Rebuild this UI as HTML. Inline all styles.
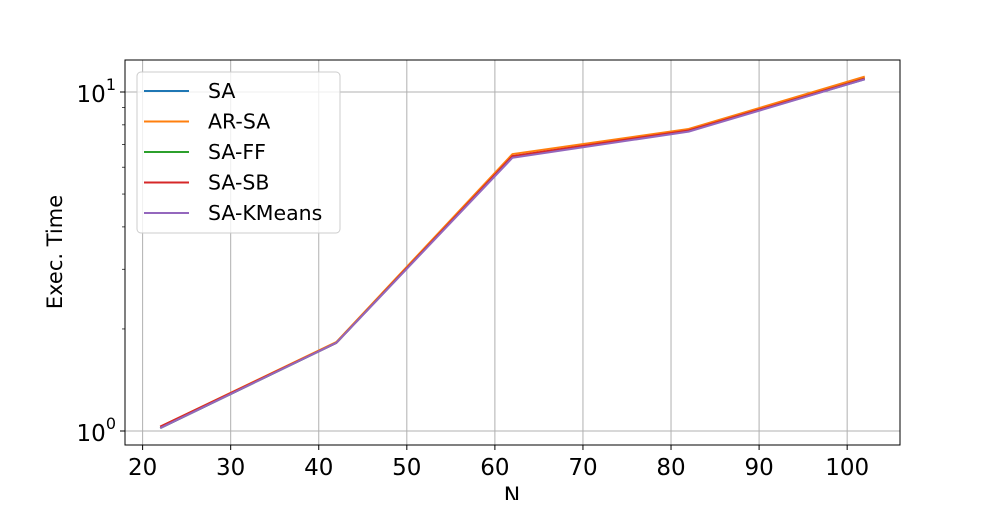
<!DOCTYPE html>
<html><head><meta charset="utf-8"><style>
body{margin:0;background:#fff}
svg text{font-family:"DejaVu Sans","Liberation Sans",sans-serif;fill:#000}
</style></head><body>
<svg id="chart" width="1000" height="500" xmlns="http://www.w3.org/2000/svg">
<g id="grid"></g>
<g id="series"></g>
<rect x="125" y="60" width="775" height="385" fill="none" stroke="#000" stroke-width="1"/>
<g id="axes"></g>
<text x="512" y="503" font-size="22" text-anchor="middle">N</text>
<text transform="translate(62,252) rotate(-90)" font-size="21" text-anchor="middle">Exec. Time</text>
<g id="legend"></g>
</svg>
<script>
const categories = [22, 42, 62, 82, 102];
const seriesNames = ['SA','AR-SA','SA-FF','SA-SB','SA-KMeans'];
const saVals = [1.02, 1.82, 6.43, 7.67, 10.9];
const arsaVals = [1.03, 1.83, 6.56, 7.78, 11.1];
const saffVals = [1.02, 1.82, 6.45, 7.68, 10.95];
const sasbVals = [1.03, 1.82, 6.47, 7.7, 10.95];
const sakmVals = [1.02, 1.82, 6.40, 7.64, 10.9];
const xTicks = [20,30,40,50,60,70,80,90,100];
const yMajor = [1, 10];
const colors = ['#1f77b4','#ff7f0e','#2ca02c','#d62728','#9467bd'];
const allVals = [saVals, arsaVals, saffVals, sasbVals, sakmVals];

const NS='http://www.w3.org/2000/svg';
const X0=125,X1=900,Y0=60,Y1=445;
const xMin=18,xMax=106;
const x=v=>X0+(v-xMin)/(xMax-xMin)*(X1-X0);
const y=v=>431-Math.log10(v)*339;
function mk(t,a,p){const e=document.createElementNS(NS,t);for(const k in a)e.setAttribute(k,a[k]);p.appendChild(e);return e;}
const grid=document.getElementById('grid'),axes=document.getElementById('axes'),ser=document.getElementById('series'),leg=document.getElementById('legend');
xTicks.forEach(t=>{
  const g=mk('line',{x1:x(t),x2:x(t),y1:Y0,y2:Y1,stroke:'#b0b0b0','stroke-width':1},grid);
  
  
  const tk=mk('line',{x1:x(t),x2:x(t),y1:Y1,y2:Y1+5,stroke:'#000','stroke-width':1},axes);
  
  
  const tx=mk('text',{x:x(t),y:Y1+30,'font-size':23,'text-anchor':'middle'},axes);
  tx.textContent=t;
  
  
});
yMajor.forEach((t,i)=>{
  const g=mk('line',{x1:X0,x2:X1,y1:y(t),y2:y(t),stroke:'#b0b0b0','stroke-width':1},grid);
  
  
  const tk=mk('line',{x1:X0-5,x2:X0,y1:y(t),y2:y(t),stroke:'#000','stroke-width':1},axes);
  
  
  const tx=mk('text',{x:X0-9,y:y(t)+10,'font-size':23,'text-anchor':'end'},axes);
  tx.innerHTML='10<tspan font-size="16" dy="-12">'+i+'</tspan>';
  
  
});
[0.9,2,3,4,5,6,7,8,9,20].forEach(v=>{
  const yy=y(v); if(yy<Y0||yy>Y1) return;
  const tk=mk('line',{x1:X0-3,x2:X0,y1:yy,y2:yy,stroke:'#000','stroke-width':0.7},axes);
  
  
});
allVals.forEach((vals,i)=>{
  const p=mk('polyline',{points:vals.map((v,j)=>x(categories[j])+','+y(v)).join(' '),fill:'none',stroke:colors[i],'stroke-width':2,'stroke-linejoin':'round'},ser);
  
  
});
const box=mk('rect',{x:137,y:72,width:203,height:161,rx:4,fill:'#fff','fill-opacity':0.8,stroke:'#ccc'},leg);


seriesNames.forEach((n,i)=>{
  const yy=91+i*30.5;
  const g=mk('g',{},leg);
  
  
  mk('line',{x1:144,x2:189,y1:yy,y2:yy,stroke:colors[i],'stroke-width':2},g);
  const t=mk('text',{x:208,y:yy+7,'font-size':20.5},g);
  t.textContent=n;
});
</script>
</body></html>
